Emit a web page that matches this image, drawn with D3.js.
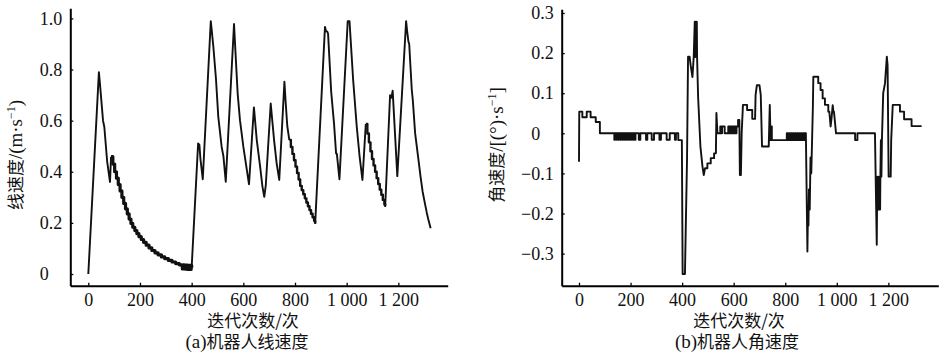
<!DOCTYPE html>
<html><head><meta charset="utf-8">
<script src="https://cdn.jsdelivr.net/npm/d3@7"></script>
<style>
html,body{margin:0;padding:0;background:#fff;}
svg{display:block;}
</style></head>
<body>
<svg id="c" width="943" height="357"></svg>
<script>
// ---------- data ----------
const iterTicks = [0, 200, 400, 600, 800, 1000, 1200];
const iterTickLabels = ["0", "200", "400", "600", "800", "1 000", "1 200"];
const linTicks = [0, 0.2, 0.4, 0.6, 0.8, 1.0];
const linTickLabels = ["0", "0.2", "0.4", "0.6", "0.8", "1.0"];
const angTicks = [-0.3, -0.2, -0.1, 0, 0.1, 0.2, 0.3];
const angTickLabels = ["\u22120.3", "\u22120.2", "\u22120.1", "0", "0.1", "0.2", "0.3"];

const xTitle = "迭代次数/次";
const captionA = ["(a)", "机器人线速度"];
const captionB = ["(b)", "机器人角速度"];

// linear velocity (m/s) vs iteration, linear segments and stepped decays
const velLinA = [[0,0],[41,0.79],[45,0.745],[57,0.6],[60,0.585],[62,0.575],[73,0.44],[84,0.36],[88,0.459]];
const velStepA = [[88,0.459],[95,0.43],[102,0.40],[109,0.375],[116,0.35],[123,0.325],[130,0.30],[137,0.276],[144,0.255],[151,0.235],[158,0.215],[165,0.198],[172,0.183],[180,0.17],[188,0.158],[196,0.146],[205,0.135],[214,0.124],[224,0.113],[235,0.102],[246,0.092],[258,0.083],[270,0.075],[283,0.067],[296,0.06],[310,0.053],[324,0.047],[338,0.041],[352,0.036],[362,0.032],[364,0.02],[366,0.036],[368,0.02],[370,0.036],[372,0.02],[374,0.035],[376,0.019],[378,0.035],[380,0.019],[382,0.035],[384,0.018],[386,0.034],[388,0.018],[390,0.034],[392,0.018],[394,0.034],[396,0.018],[398,0.034],[400,0.025]];
const velLinB = [[400,0.025],[425,0.511],[430,0.505],[434,0.45],[443,0.371],[474,0.989],[478,0.95],[484,0.889],[494,0.765],[503,0.616],[516,0.498],[523,0.46],[532,0.361],[564,0.978],[570,0.86],[578,0.707],[587,0.602],[600,0.498],[622,0.351],[641,0.652],[652,0.524],[665,0.42],[674,0.342],[681,0.302],[687,0.348],[706,0.667],[719,0.524],[729,0.433],[739,0.368],[759,0.752],[764,0.67],[770,0.58],[778,0.524]];
const velStepB = [[778,0.524],[784,0.497],[790,0.47],[796,0.445],[802,0.42],[808,0.395],[814,0.37],[820,0.345],[826,0.328],[832,0.312],[838,0.296],[844,0.28],[850,0.265],[856,0.25],[862,0.236],[868,0.222],[874,0.208],[878,0.198]];
const velLinC = [[878,0.196],[916,0.967],[920,0.95],[925,0.948],[928,0.94],[940,0.713],[951,0.589],[955,0.53],[959,0.472],[962,0.47],[972,0.371],[1004,0.989],[1011,0.989],[1025,0.76],[1039,0.576],[1050,0.46],[1061,0.368],[1074,0.587]];
const velStepC = [[1074,0.587],[1080,0.55],[1086,0.515],[1092,0.48],[1098,0.45],[1104,0.425],[1110,0.40],[1116,0.375],[1122,0.352],[1128,0.33],[1134,0.31],[1140,0.29],[1146,0.272],[1149,0.267]];
const velLinD = [[1149,0.262],[1168,0.70],[1173,0.69],[1175,0.70],[1178,0.717],[1196,0.383],[1230,0.989],[1234,0.95],[1239,0.909],[1242,0.90],[1252,0.72],[1256,0.68],[1265,0.55],[1278,0.446],[1286,0.38],[1294,0.322],[1302,0.28],[1310,0.24],[1318,0.205],[1325,0.179]];

// angular velocity vs iteration
const angRate = [
[0,-0.071],[1,0.054],[13,0.054],[13,0.04],[30,0.04],[30,0.054],[45,0.054],[45,0.04],[65,0.04],[65,0.028],[81,0.028],[81,0],
[137,0],[137,-0.016],[139,-0.016],[139,0],[145,0],[145,-0.016],[147,-0.016],[147,0],
[153,0],[153,-0.016],[155,-0.016],[155,0],[161,0],[161,-0.016],[163,-0.016],[163,0],
[169,0],[169,-0.016],[171,-0.016],[171,0],[177,0],[177,-0.016],[179,-0.016],[179,0],
[185,0],[185,-0.016],[187,-0.016],[187,0],[193,0],[193,-0.016],[195,-0.016],[195,0],
[201,0],[201,-0.016],[203,-0.016],[203,0],[209,0],[209,-0.016],[211,-0.016],[211,0],
[217,0],[217,-0.016],[219,-0.016],[219,0],[232,0],[232,-0.016],[238,-0.016],[238,0],
[260,0],[260,-0.016],[265,-0.016],[265,0],[282,0],[282,-0.016],[291,-0.016],[291,0],
[312,0],[312,-0.016],[318,-0.016],[318,0],[340,0],[340,-0.016],[352,-0.016],[352,0],
[372,0],[372,-0.016],[376,-0.016],[376,0],
[385,0],[385,-0.017],[399,-0.017],[402,-0.351],[411,-0.351],[414,-0.241],[419,-0.066],[423,0.191],[429,0.191],[433,0.17],[440,0.14],[445,0.191],[449,0.278],[451,0.19],[453,0.278],[455,0.2],[457,0.278],[458,0.191],[462,0.091],[471,-0.033],[479,-0.083],[484,-0.104],[489,-0.087],[498,-0.087],[498,-0.075],[511,-0.075],[511,-0.062],[524,-0.062],[524,-0.05],[531,-0.05],[533,0.051],[537,0],
[548,0],[548,0.017],[552,0.017],[552,0],[555,0],[555,0.017],[565,0.017],[565,0],
[579,0],[579,0.017],[584,0.017],[584,0],[587,0],[587,0.017],[592,0.017],[592,0],[595,0],[595,0.017],[600,0.017],[600,0],[603,0],[603,0.017],[608,0.017],[608,0],[611,0],[611,0.017],[617,0.017],[617,0.033],[622,0.033],[624,-0.104],[626,-0.04],[628,-0.104],[631,0],[636,0.071],[652,0.071],[652,0.058],[672,0.058],[672,0.036],[683,0.036],[685,0.096],[690,0.12],[700,0.12],[705,0.096],[710,-0.033],[736,-0.033],[740,0.071],[743,-0.017],[745,-0.017],[745,0.017],[748,0.017],[748,-0.017],[806,-0.017],
[806,0],[810,0],[810,-0.017],[814,-0.017],[814,0],[818,0],[818,-0.017],[822,-0.017],[822,0],[826,0],[826,-0.017],[830,-0.017],[830,0],[834,0],[834,-0.017],[838,-0.017],[838,0],[842,0],[842,-0.017],[846,-0.017],[846,0],[850,0],[850,-0.017],[854,-0.017],[854,0],[858,0],[858,-0.017],[862,-0.017],[862,0],[866,0],[866,-0.017],[870,-0.017],[870,0],[874,0],[874,-0.017],[877,-0.017],[877,0],[880,0],
[886,-0.295],[888,-0.2],[890,-0.23],[892,-0.14],[895,-0.19],[898,-0.06],[901,-0.1],[904,-0.02],[907,0.06],[909,0.141],[928,0.141],[928,0.125],[937,0.125],[937,0.108],[945,0.108],[945,0.087],[954,0.087],[954,0.071],[967,0.071],[967,0.054],[971,0.054],[976,0.017],[980,0.04],[984,0.07],[987,0.054],[989,0.054],[997,0],[1071,0],[1071,-0.017],[1080,-0.017],[1080,0],[1148,0],
[1155,-0.278],[1157,-0.108],[1160,-0.19],[1162,-0.108],[1164,-0.19],[1166,-0.108],[1168,-0.19],[1169,-0.108],[1171,-0.017],[1173,-0.108],[1175,-0.017],[1180,0.1],[1187,0.125],[1194,0.191],[1197,0.17],[1201,-0.108],[1209,-0.108],[1211,-0.017],[1217,0.071],[1245,0.071],[1245,0.054],[1261,0.054],[1261,0.035],[1290,0.035],[1290,0.018],[1329,0.018]
];

// ---------- drawing ----------
const svg = d3.select("#c");
const SERIF = "'Liberation Serif', 'DejaVu Serif', serif";
const CJK = "'Noto Sans CJK SC', sans-serif";

function panel(opt) {
  const g = svg.append("g");
  const x = d3.scaleLinear().domain(opt.xDom).range([opt.left, opt.right]);
  const y = d3.scaleLinear().domain(opt.yDom).range([opt.bottom, opt.top]);

  const xa = g.append("g").attr("transform", `translate(0,${opt.bottom})`)
    .call(d3.axisBottom(x).tickValues(iterTicks).tickFormat((d,i)=>iterTickLabels[i])
      .tickSizeInner(-3).tickSizeOuter(0).tickPadding(8));
  const ya = g.append("g").attr("transform", `translate(${opt.left},0)`)
    .call(d3.axisLeft(y).tickValues(opt.yTicks).tickFormat((d,i)=>opt.yLabels[i])
      .tickSizeInner(-3).tickSizeOuter(0).tickPadding(8));
  [xa, ya].forEach(a => {
    a.attr("font-family", null).attr("font-size", null);
    a.select(".domain").attr("stroke", "#000").attr("stroke-width", 2);
    a.selectAll(".tick line").attr("stroke", "#000").attr("stroke-width", 1.3);
    a.selectAll("text").style("font-family", SERIF).style("font-size", "18px").attr("fill", "#111");
  });
  let refW = 0;
  ya.selectAll(".tick text").each(function(d){ if (d > 0) refW = Math.max(refW, this.getComputedTextLength()); });
  ya.selectAll(".tick text").filter(d => d === 0).attr("text-anchor", "start").attr("x", -8 - refW);

  const lin = d3.line().x(d=>x(d[0])).y(d=>y(d[1])).curve(d3.curveLinear);
  const stp = d3.line().x(d=>x(d[0])).y(d=>y(d[1])).curve(d3.curveStepAfter);
  opt.series.forEach(s => {
    g.append("path").datum(s.data).attr("d", s.step ? stp : lin)
      .attr("fill", "none").attr("stroke", "#111").attr("stroke-width", s.w || 1.9)
      .attr("stroke-linejoin", "round").attr("stroke-linecap", "butt");
  });

  g.append("text").attr("x", opt.xTitleX).attr("y", 326.5).attr("text-anchor", "middle")
    .style("font-family", CJK).style("font-size", "17px").attr("fill", "#111").text(xTitle);
  const cap = g.append("text").attr("x", opt.capX).attr("y", 348).attr("text-anchor", "middle")
    .attr("fill", "#111");
  cap.append("tspan").style("font-family", SERIF).style("font-size", "19px").text(opt.caption[0]);
  cap.append("tspan").style("font-family", CJK).style("font-size", "17px").text(opt.caption[1]);

  const yt = g.append("text").attr("transform", `translate(${opt.yTitleX},${opt.yTitleY}) rotate(-90)`)
    .attr("text-anchor", "middle").attr("dy", "0.36em").attr("fill", "#111");
  opt.yTitle.forEach(p => {
    const t = yt.append("tspan").style("font-family", p.cjk ? CJK : SERIF)
      .style("font-size", p.sup ? "12px" : (p.cjk ? "17px" : "19px")).text(p.t);
    if (p.sup) t.attr("dy", "-7");
    if (p.after) t.attr("dy", "7");
  });
}

panel({
  left: 70.3, right: 447.7, top: 8.3, bottom: 285.7,
  xDom: [-69.7, 1391], yDom: [-0.0457, 1.0395],
  yTicks: linTicks, yLabels: linTickLabels,
  series: [
    {data: velLinA}, {data: velStepA, step: true, w: 3.2},
    {data: velLinB}, {data: velStepB, step: true, w: 2.4},
    {data: velLinC}, {data: velStepC, step: true, w: 2.4},
    {data: velLinD}
  ],
  xTitleX: 253, capX: 247, caption: captionA,
  yTitleX: 16, yTitleY: 155,
  yTitle: [{t:"线速度", cjk:true}, {t:"/(m\u00b7s"}, {t:"\u22121", sup:true}, {t:")", after:true}]
});

panel({
  left: 561.7, right: 938.3, top: 9.3, bottom: 285.7,
  xDom: [-67.1, 1393.7], yDom: [-0.38, 0.3092],
  yTicks: angTicks, yLabels: angTickLabels,
  series: [{data: angRate}],
  xTitleX: 739, capX: 737, caption: captionB,
  yTitleX: 497, yTitleY: 145,
  yTitle: [{t:"角速度", cjk:true}, {t:"/[(\u00b0)\u00b7s"}, {t:"\u22121", sup:true}, {t:"]", after:true}]
});
</script>
</body></html>
